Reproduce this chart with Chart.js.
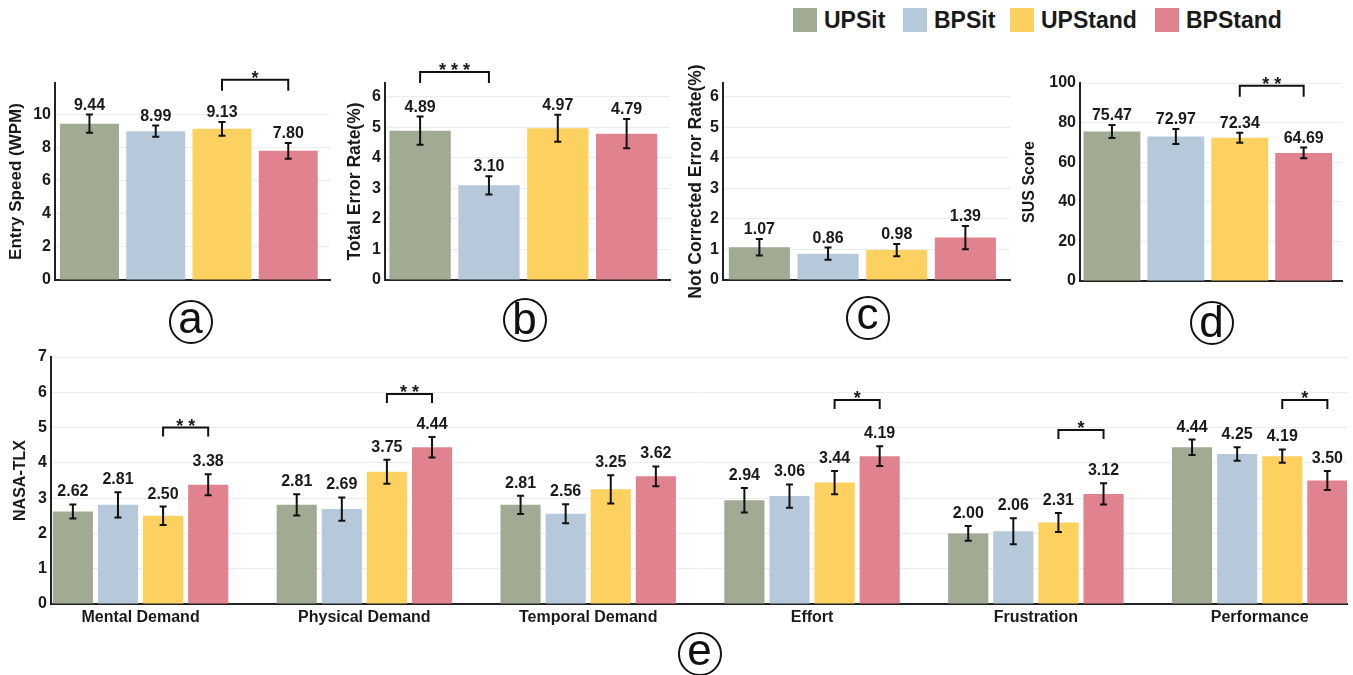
<!DOCTYPE html>
<html><head><meta charset="utf-8">
<script src="https://cdn.jsdelivr.net/npm/chart.js@4/dist/chart.umd.min.js"></script>
<style>
html,body{margin:0;padding:0;background:#fff;}
body{width:1353px;height:675px;position:relative;overflow:hidden;font-family:"Liberation Sans",Arial,sans-serif;color:#1a1a1a;}
.cv{position:absolute;}
.leg{position:absolute;top:8px;display:flex;align-items:center;height:24px;}
.leg .sw{width:24px;height:24px;margin-right:7px;}
.leg span{font-weight:bold;font-size:23px;line-height:24px;}
.circ{position:absolute;width:40px;height:40px;border:2.5px solid #111;border-radius:50%;display:flex;align-items:center;justify-content:center;font-size:44px;line-height:1;color:#111;}
.circ span{position:relative;}
</style></head>
<body>
<canvas id="ca" class="cv"></canvas>
<canvas id="cb" class="cv"></canvas>
<canvas id="cc" class="cv"></canvas>
<canvas id="cd" class="cv"></canvas>
<canvas id="ce" class="cv"></canvas>
<div id="legend"></div>
<div id="circles"></div>
<script>
// ---------- data ----------
const conditions = ['UPSit', 'BPSit', 'UPStand', 'BPStand'];
const speedMeans = [9.44, 8.99, 9.13, 7.80];
const speedErrs = [0.55, 0.34, 0.42, 0.48];
const totalErrMeans = [4.89, 3.10, 4.97, 4.79];
const totalErrErrs = [0.46, 0.30, 0.44, 0.48];
const notCorrMeans = [1.07, 0.86, 0.98, 1.39];
const notCorrErrs = [0.27, 0.20, 0.20, 0.38];
const susMeans = [75.47, 72.97, 72.34, 64.69];
const susErrs = [3.3, 3.8, 2.5, 2.7];
const tlxDims = ['Mental Demand', 'Physical Demand', 'Temporal Demand', 'Effort', 'Frustration', 'Performance'];
const tlxUPSit = [2.62, 2.81, 2.81, 2.94, 2.00, 4.44];
const tlxBPSit = [2.81, 2.69, 2.56, 3.06, 2.06, 4.25];
const tlxUPStand = [2.50, 3.75, 3.25, 3.44, 2.31, 4.19];
const tlxBPStand = [3.38, 4.44, 3.62, 4.19, 3.12, 3.50];
const tlxErrUPSit = [0.20, 0.30, 0.26, 0.35, 0.21, 0.22];
const tlxErrBPSit = [0.36, 0.33, 0.27, 0.33, 0.37, 0.19];
const tlxErrUPStand = [0.26, 0.34, 0.40, 0.33, 0.27, 0.19];
const tlxErrBPStand = [0.30, 0.29, 0.28, 0.28, 0.30, 0.27];
// significance: [from condition, to condition, bracket level, stars]
const sigSpeed = [[2, 3, 12.1, '*']];
const sigTotalErr = [[0, 1, 6.81, '***']];
const sigNotCorr = [];
const sigSus = [[2, 3, 98.6, '**']];
// significance in NASA-TLX: [dimension, from, to, level, stars]
const sigTlx = [[0, 2, 3, 5.0, '**'], [1, 2, 3, 5.95, '**'], [3, 2, 3, 5.78, '*'], [4, 2, 3, 4.93, '*'], [5, 2, 3, 5.78, '*']];
const panelLetters = ['a', 'b', 'c', 'd', 'e'];

// ---------- style ----------
const colors = ['#A1AB94', '#B6C9DB', '#FDD160', '#E1838F'];
const FONT = '"Liberation Sans", Arial, sans-serif';
const INK = '#1a1a1a';
Chart.defaults.font.family = FONT;
Chart.defaults.color = INK;

const errBarPlugin = {
  id: 'errbars',
  afterDatasetsDraw(chart, args, opts) {
    const ctx = chart.ctx, ys = chart.scales.y;
    chart.data.datasets.forEach((ds, di) => {
      const meta = chart.getDatasetMeta(di);
      meta.data.forEach((bar, i) => {
        const v = ds.data[i].y, e = ds.errors[i];
        const top = ys.getPixelForValue(v + e), bot = ys.getPixelForValue(v - e);
        ctx.save();
        ctx.strokeStyle = '#111'; ctx.lineWidth = 2;
        ctx.beginPath();
        ctx.moveTo(bar.x, top); ctx.lineTo(bar.x, bot);
        ctx.moveTo(bar.x - 3.5, top); ctx.lineTo(bar.x + 3.5, top);
        ctx.moveTo(bar.x - 3.5, bot); ctx.lineTo(bar.x + 3.5, bot);
        ctx.stroke();
        ctx.fillStyle = INK;
        ctx.font = 'bold 16px ' + FONT;
        ctx.textAlign = 'center'; ctx.textBaseline = 'alphabetic';
        ctx.fillText(v.toFixed(2), bar.x, top - opts.gap);
        ctx.restore();
      });
    });
  }
};
const bracketPlugin = {
  id: 'brackets',
  afterDatasetsDraw(chart, args, opts) {
    const ctx = chart.ctx, ys = chart.scales.y;
    (opts.items || []).forEach(b => {
      const x1 = chart.getDatasetMeta(b.ds1).data[b.i1].x;
      const x2 = chart.getDatasetMeta(b.ds2).data[b.i2].x;
      const y = ys.getPixelForValue(b.level);
      ctx.save();
      ctx.strokeStyle = '#111'; ctx.lineWidth = 2;
      ctx.beginPath();
      ctx.moveTo(x1, y + opts.drop); ctx.lineTo(x1, y); ctx.lineTo(x2, y); ctx.lineTo(x2, y + opts.drop);
      ctx.stroke();
      ctx.fillStyle = INK;
      ctx.font = 'bold 18px ' + FONT;
      ctx.textAlign = 'center'; ctx.textBaseline = 'alphabetic';
      ctx.fillText(b.label.split('').join(' '), (x1 + x2) / 2, y + 4);
      ctx.restore();
    });
  }
};

function place(id, box) {
  const c = document.getElementById(id);
  c.style.left = box.left + 'px'; c.style.top = box.top + 'px';
  c.style.width = box.width + 'px'; c.style.height = box.height + 'px';
  c.width = box.width; c.height = box.height;
  return c;
}

function makeChart(id, box, area, datasets, opt) {
  const c = place(id, box);
  const yW = area.l - box.left, xH = box.top + box.height - area.b;
  return new Chart(c, {
    type: 'bar',
    data: { datasets },
    options: {
      responsive: false, animation: false, devicePixelRatio: 1,
      layout: { padding: { left: 0, top: area.t - box.top, right: box.left + box.width - area.r, bottom: 0 } },
      datasets: { bar: { categoryPercentage: opt.catPct, barPercentage: opt.barPct, grouped: true } },
      plugins: {
        legend: { display: false }, tooltip: { enabled: false },
        errbars: { gap: opt.gap },
        brackets: { items: opt.brackets, drop: opt.drop }
      },
      scales: {
        x: {
          type: 'linear', min: opt.xMin, max: opt.xMax, offset: false,
          afterBuildTicks: s => { s.ticks = opt.xTicks.map(v => ({ value: v })); },
          afterFit: s => { s.height = xH; },
          grid: { display: false, drawTicks: false, offset: false },
          border: { display: true, color: '#222', width: 2 },
          ticks: {
            display: !!opt.xLabels, padding: 4, autoSkip: false, maxRotation: 0,
            font: { size: 16, weight: 'bold' }, color: INK,
            callback: v => opt.xLabels ? opt.xLabels[v] : ''
          }
        },
        y: {
          min: 0, max: opt.yMax,
          afterFit: s => { s.width = yW; },
          grid: { color: '#ececec', lineWidth: 1, drawTicks: false },
          border: { display: true, color: '#222', width: 2 },
          ticks: { stepSize: opt.yStep, includeBounds: false, padding: 4, font: { size: 16, weight: 'bold' }, color: INK },
          title: { display: true, text: opt.yTitle, font: { size: opt.titleSize, weight: 'bold' }, color: INK, padding: { top: opt.titlePad, bottom: 0 } }
        }
      }
    },
    plugins: [errBarPlugin, bracketPlugin]
  });
}

function smallPanel(id, box, area, means, errs, sig, opt) {
  const ds = [{
    data: means.map((m, i) => ({ x: i, y: m })),
    errors: errs,
    backgroundColor: colors,
    borderWidth: 0
  }];
  opt.brackets = sig.map(s => ({ ds1: 0, i1: s[0], ds2: 0, i2: s[1], level: s[2], label: s[3] }));
  opt.catPct = 1; opt.barPct = 0.89; opt.gap = 5; opt.drop = 11;
  opt.xTicks = [0, 1, 2, 3];
  return makeChart(id, box, area, ds, opt);
}

smallPanel('ca', { left: 0, top: 50, width: 340, height: 260 }, { l: 55, t: 83, r: 330, b: 280 },
  speedMeans, speedErrs, sigSpeed,
  { xMin: -0.52, xMax: 3.63, yMax: 11.9, yStep: 2, yTitle: 'Entry Speed (WPM)', titlePad: 6, titleSize: 17 });
smallPanel('cb', { left: 340, top: 50, width: 340, height: 260 }, { l: 385, t: 83, r: 670, b: 280 },
  totalErrMeans, totalErrErrs, sigTotalErr,
  { xMin: -0.51, xMax: 3.63, yMax: 6.45, yStep: 1, yTitle: 'Total Error Rate(%)', titlePad: 5, titleSize: 17.5 });
smallPanel('cc', { left: 680, top: 50, width: 335, height: 260 }, { l: 723, t: 83, r: 1010, b: 280 },
  notCorrMeans, notCorrErrs, sigNotCorr,
  { xMin: -0.53, xMax: 3.65, yMax: 6.45, yStep: 1, yTitle: 'Not Corrected Error Rate(%)', titlePad: 6, titleSize: 17.5 });
smallPanel('cd', { left: 1005, top: 50, width: 348, height: 260 }, { l: 1080, t: 83, r: 1342, b: 281 },
  susMeans, susErrs, sigSus,
  { xMin: -0.5, xMax: 3.6, yMax: 100, yStep: 20, yTitle: 'SUS Score', titlePad: 15, titleSize: 16 });

const tlxSeries = [tlxUPSit, tlxBPSit, tlxUPStand, tlxBPStand];
const tlxErrs = [tlxErrUPSit, tlxErrBPSit, tlxErrUPStand, tlxErrBPStand];
const tlxDatasets = tlxSeries.map((s, k) => ({
  label: conditions[k],
  data: s.map((m, i) => ({ x: i, y: m })),
  errors: tlxErrs[k],
  backgroundColor: colors[k],
  borderWidth: 0
}));
makeChart('ce', { left: 0, top: 340, width: 1353, height: 335 }, { l: 51, t: 357, r: 1347, b: 604 }, tlxDatasets, {
  xMin: -0.40, xMax: 5.39, xTicks: [0, 1, 2, 3, 4, 5], xLabels: tlxDims,
  yMax: 7, yStep: 1, yTitle: 'NASA-TLX', titlePad: 11, titleSize: 16,
  catPct: 0.806, barPct: 0.89, gap: 8, drop: 9,
  brackets: sigTlx.map(s => ({ ds1: s[1], i1: s[0], ds2: s[2], i2: s[0], level: s[3], label: s[4] }))
});

// ---------- legend ----------
const legPos = [793, 903, 1010, 1155];
const legend = document.getElementById('legend');
conditions.forEach((name, k) => {
  const d = document.createElement('div');
  d.className = 'leg'; d.style.left = legPos[k] + 'px';
  d.innerHTML = '<div class="sw" style="background:' + colors[k] + '"></div><span>' + name + '</span>';
  legend.appendChild(d);
});

// ---------- panel letters ----------
const circPos = [[191, 322], [525, 320], [868, 318], [1212, 323], [700, 654]];
const circShift = [-4, -1, -4, -1, -4];
const circles = document.getElementById('circles');
panelLetters.forEach((l, k) => {
  const d = document.createElement('div');
  d.className = 'circ';
  d.style.left = (circPos[k][0] - 22.5) + 'px';
  d.style.top = (circPos[k][1] - 22.5) + 'px';
  d.innerHTML = '<span style="top:' + circShift[k] + 'px">' + l + '</span>';
  circles.appendChild(d);
});
</script>
</body></html>
